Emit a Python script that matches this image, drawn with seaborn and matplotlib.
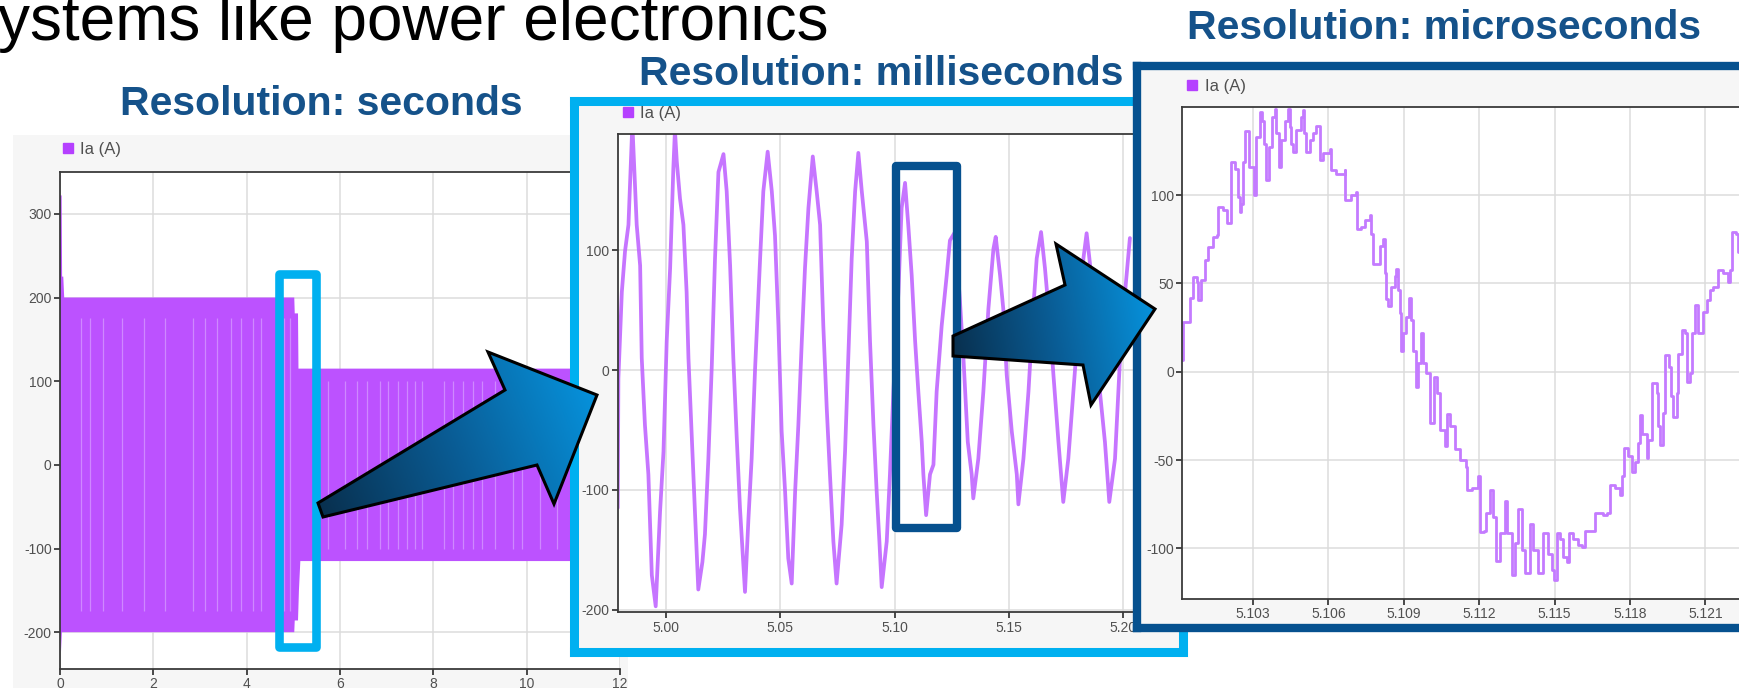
import numpy as np
import pandas as pd
import matplotlib
matplotlib.use('Agg')
import matplotlib.pyplot as plt
import seaborn as sns
from matplotlib.patches import Rectangle, Polygon
from matplotlib.lines import Line2D
from matplotlib.colors import LinearSegmentedColormap

# ---- data ----
series_label = 'Ia (A)'

# panel 1 (seconds): the signal is so dense it reads as a band -> envelope
p1_t_up = [0.0, 0.035, 0.045, 0.07, 0.09, 5.02, 5.03, 5.10, 5.11, 11.6]
p1_v_up = [322, 322, 225, 225, 200, 200, 181, 181, 115, 115]
p1_t_low = [0.0, 0.01, 0.02, 0.04, 5.02, 5.03, 5.10, 5.12, 5.15, 11.6]
p1_v_low = [-200, -200, -225, -200, -200, -186, -186, -150, -115, -115]
p1_stripes_big = [0.44, 0.65, 0.92, 1.33, 1.80, 2.26, 2.86, 3.11, 3.36, 3.66,
                  3.87, 4.13, 4.30, 4.81, 4.93]
p1_stripes_small = [5.75, 6.11, 6.36, 6.57, 6.86, 7.03, 7.25, 7.43, 7.61, 7.75,
                    8.23, 8.43, 8.64, 8.86, 9.04, 9.32, 9.71, 9.89, 10.29, 10.64]
p1_xticks = [0, 2, 4, 6, 8, 10, 12]
p1_yticks = [-200, -100, 0, 100, 200, 300]

# panel 2 (milliseconds)
p2_t = [4.9791, 4.9794, 4.9809, 4.9823, 4.9838, 4.9855, 4.9874, 4.9889, 4.9896, 4.9910,
        4.9925, 4.9940, 4.9957, 4.9976, 4.9991, 5.0005, 5.0020, 5.0034, 5.0041, 5.0049,
        5.0063, 5.0078, 5.0092, 5.0100, 5.0111, 5.0129, 5.0143, 5.0161, 5.0172, 5.0187,
        5.0202, 5.0216, 5.0231, 5.0253, 5.0267, 5.0282, 5.0296, 5.0311, 5.0325, 5.0347,
        5.0362, 5.0376, 5.0391, 5.0413, 5.0427, 5.0446, 5.0464, 5.0478, 5.0493, 5.0507,
        5.0522, 5.0536, 5.0551, 5.0566, 5.0580, 5.0595, 5.0609, 5.0624, 5.0643, 5.0660,
        5.0675, 5.0689, 5.0704, 5.0718, 5.0733, 5.0747, 5.0769, 5.0784, 5.0798, 5.0813,
        5.0828, 5.0842, 5.0857, 5.0879, 5.0893, 5.0908, 5.0922, 5.0934, 5.0944, 5.0966,
        5.0980, 5.0995, 5.1017, 5.1031, 5.1046, 5.1060, 5.1075, 5.1090, 5.1104, 5.1119,
        5.1126, 5.1138, 5.1155, 5.1170, 5.1184, 5.1206, 5.1228, 5.1242, 5.1264, 5.1285,
        5.1301, 5.1320, 5.1337, 5.1344, 5.1366, 5.1388, 5.1410, 5.1432, 5.1442, 5.1461,
        5.1475, 5.1490, 5.1512, 5.1534, 5.1541, 5.1563, 5.1585, 5.1606, 5.1621, 5.1640,
        5.1657, 5.1679, 5.1694, 5.1716, 5.1737, 5.1759, 5.1781, 5.1803, 5.1825, 5.1839,
        5.1854, 5.1876, 5.1897, 5.1919, 5.1938, 5.1963, 5.1985, 5.2007, 5.2028]
p2_v = [-115, -7, 65, 99, 121, 205, 121, 87, 10, -46,
        -87, -171, -197, -118, -68, 24, 85, 168, 200, 174,
        143, 121, 65, 10, -40, -121, -183, -160, -137, -74,
        4, 93, 165, 180, 149, 87, 10, -57, -115, -185,
        -124, -74, 1, 93, 149, 182, 149, 112, 37, -51,
        -101, -157, -178, -101, -46, 24, 85, 135, 178, 149,
        121, 37, -32, -87, -143, -178, -129, -68, 10, 93,
        149, 181, 149, 107, 24, -46, -101, -143, -181, -143,
        -87, -18, 65, 135, 156, 121, 79, 24, -18, -60,
        -87, -121, -87, -79, -18, 37, 79, 108, 115, 60,
        10, -60, -87, -107, -74, -18, 51, 101, 111, 79,
        51, -4, -51, -87, -112, -74, -18, 51, 93, 115,
        85, 37, -4, -60, -110, -74, -18, 37, 93, 114,
        88, 37, -18, -60, -110, -74, 10, 65, 110]
p2_xticks = [5.00, 5.05, 5.10, 5.15, 5.20]
p2_xlabels = ['5.00', '5.05', '5.10', '5.15', '5.20']
p2_yticks = [-200, -100, 0, 100]

# panel 3 (microseconds)
p3_t = [5.10017, 5.10021, 5.10048, 5.10061, 5.10079, 5.10081, 5.10094, 5.10108, 5.10121, 5.10141,
        5.10158, 5.10161, 5.10181, 5.10198, 5.10211, 5.10227, 5.10240, 5.10247, 5.10254, 5.10260,
        5.10270, 5.10283, 5.10304, 5.10313, 5.10327, 5.10336, 5.10344, 5.10353, 5.10363, 5.10376,
        5.10386, 5.10393, 5.10402, 5.10410, 5.10426, 5.10440, 5.10446, 5.10453, 5.10459, 5.10473,
        5.10490, 5.10499, 5.10503, 5.10513, 5.10526, 5.10539, 5.10552, 5.10566, 5.10579, 5.10605,
        5.10612, 5.10632, 5.10665, 5.10668, 5.10692, 5.10712, 5.10716, 5.10732, 5.10745, 5.10765,
        5.10771, 5.10778, 5.10791, 5.10805, 5.10818, 5.10824, 5.10831, 5.10838, 5.10851, 5.10864,
        5.10871, 5.10878, 5.10884, 5.10891, 5.10897, 5.10911, 5.10921, 5.10927, 5.10935, 5.10948,
        5.10957, 5.10970, 5.10977, 5.10988, 5.11004, 5.11020, 5.11033, 5.11043, 5.11063, 5.11073,
        5.11086, 5.11103, 5.11123, 5.11147, 5.11152, 5.11170, 5.11196, 5.11203, 5.11219, 5.11229,
        5.11243, 5.11256, 5.11269, 5.11282, 5.11302, 5.11309, 5.11329, 5.11342, 5.11355, 5.11369,
        5.11382, 5.11402, 5.11415, 5.11435, 5.11455, 5.11475, 5.11488, 5.11499, 5.11508, 5.11521,
        5.11535, 5.11548, 5.11557, 5.11574, 5.11594, 5.11608, 5.11621, 5.11647, 5.11661, 5.11694,
        5.11707, 5.11720, 5.11740, 5.11760, 5.11767, 5.11777, 5.11793, 5.11809, 5.11820, 5.11831,
        5.11840, 5.11849, 5.11866, 5.11873, 5.11886, 5.11889, 5.11906, 5.11913, 5.11919, 5.11933,
        5.11939, 5.11955, 5.11963, 5.11973, 5.11986, 5.11992, 5.12006, 5.12019, 5.12026, 5.12039,
        5.12046, 5.12059, 5.12072, 5.12085, 5.12092, 5.12105, 5.12119, 5.12132, 5.12152, 5.12172,
        5.12192, 5.12198, 5.12208, 5.12221, 5.12231]
p3_v = [6.6, 28.3, 41.5, 53.8, 50.9, 40.6, 51.9, 63.2, 70.8, 76.4,
        77.4, 93.4, 91.5, 84.0, 118.9, 115.0, 99.0, 90.6, 95.0, 119.0,
        136.0, 116.0, 100.0, 133.0, 147.0, 142.0, 129.0, 108.5, 127.0, 144.0,
        149.0, 135.0, 116.0, 131.0, 142.0, 149.0, 138.7, 129.0, 124.5, 137.0,
        144.0, 148.0, 135.0, 124.5, 131.0, 135.0, 139.0, 119.8, 123.6, 126.0,
        114.0, 112.0, 114.0, 97.0, 100.0, 102.0, 81.0, 82.0, 86.0, 89.0,
        78.0, 61.0, 61.0, 71.0, 75.0, 56.0, 41.0, 37.0, 48.0, 54.0,
        58.0, 46.0, 33.0, 12.0, 22.0, 31.0, 42.0, 29.0, 12.0, -8.5,
        4.7, 22.0, 4.7, -1.0, -29.0, -3.0, -12.0, -33.0, -42.0, -24.0,
        -31.0, -44.0, -50.0, -54.0, -67.0, -66.0, -59.0, -90.6, -90.0, -80.0,
        -67.0, -82.0, -107.0, -91.5, -73.0, -91.5, -115.0, -97.0, -78.0, -101.0,
        -114.0, -86.0, -101.0, -114.0, -91.5, -103.0, -112.0, -118.0, -91.5, -95.0,
        -105.0, -107.5, -91.5, -95.0, -98.0, -99.0, -90.0, -90.0, -80.0, -81.0,
        -80.0, -64.0, -66.0, -70.0, -59.0, -43.0, -48.0, -57.0, -51.0, -40.5,
        -24.5, -35.0, -49.0, -38.7, -16.0, -6.6, -12.0, -31.0, -41.5, -23.6,
        9.4, 2.8, -14.0, -25.5, -12.0, 10.0, 23.6, 21.7, -5.7, -1.0,
        21.7, 37.7, 21.7, 21.7, 34.0, 40.6, 46.0, 48.0, 57.5, 55.7,
        51.0, 57.5, 79.0, 78.0, 68.0]
p3_xticks = [5.103, 5.106, 5.109, 5.112, 5.115, 5.118, 5.121]
p3_xlabels = ['5.103', '5.106', '5.109', '5.112', '5.115', '5.118', '5.121']
p3_yticks = [-100, -50, 0, 50, 100]

headline = 'ystems like power electronics'
titles = ['Resolution: seconds', 'Resolution: milliseconds', 'Resolution: microseconds']

# ---- style ----
sns.set_style('white')
plt.rcParams['font.family'] = ['Liberation Sans', 'DejaVu Sans']
plt.rcParams['axes.unicode_minus'] = False

PURPLE = '#bc52ff'
TITLE_BLUE = '#15528a'
CYAN = '#00b0f0'
DARK_BLUE = '#06518f'
W, H = 1739, 688

fig = plt.figure(figsize=(W / 100, H / 100), dpi=100)
fig.patch.set_facecolor('white')


def box(x0, y0, x1, y1):
    # pixel box (top-left origin) -> figure fraction rect
    return [x0 / W, 1 - y1 / H, (x1 - x0) / W, (y1 - y0) / H]


def panel_bg(rect, edge, lw, z):
    bg = fig.add_axes(box(*rect), zorder=z)
    bg.set_facecolor('#f6f6f6')
    bg.set_xticks([])
    bg.set_yticks([])
    for s in bg.spines.values():
        if edge is None:
            s.set_visible(False)
        else:
            s.set_color(edge)
            s.set_linewidth(lw)
    return bg


def style(ax, anchor_x, anchor_y):
    ax.set_facecolor('white')
    ax.grid(True, color='#dcdcdc', lw=1.1)
    ax.set_axisbelow(True)
    for k in ['left', 'bottom', 'top']:
        ax.spines[k].set_color('#3a3a3a')
        ax.spines[k].set_linewidth(1.3)
    ax.spines['right'].set_visible(False)
    ax.tick_params(bottom=True, left=True, direction='out', length=4, width=1.3,
                   color='#3a3a3a', labelsize=10, labelcolor='#505050', pad=2)
    ax.set_xlabel('')
    ax.set_ylabel('')
    h = [Line2D([], [], marker='s', ls='', color='#b540ff', markersize=7.5)]
    ax.legend(h, [series_label], loc='lower left', bbox_to_anchor=(anchor_x, anchor_y),
              frameon=False, fontsize=12, handlelength=0.6, handletextpad=0.45,
              borderpad=0, borderaxespad=0, labelcolor='#505050')


# ---- panel 1 ----
panel_bg((13, 135, 628, 700), None, 0, 1)
ax1 = fig.add_axes(box(60, 172, 620, 669), zorder=2)
band_t = np.concatenate([p1_t_up, p1_t_low[::-1]])
band_v = np.concatenate([p1_v_up, p1_v_low[::-1]])
ax1.fill(band_t, band_v, color=PURPLE, lw=0)
ax1.vlines(p1_stripes_big, -175, 175, color='#cf88ff', lw=0.9)
ax1.vlines(p1_stripes_small, -100, 100, color='#cf88ff', lw=0.9)
ax1.set_xlim(0, 12)
ax1.set_ylim(-244, 350)
ax1.set_xticks(p1_xticks)
ax1.set_yticks(p1_yticks)
style(ax1, 0.005, 1.03)
ax1.add_patch(Rectangle((4.70, -218), 0.78, 446, fill=False, ec=CYAN, lw=6.2,
                        joinstyle='round', clip_on=False, zorder=5))

# ---- panel 2 ----
panel_bg((573.5, 101, 1183, 652), CYAN, 6.5, 3)
ax2 = fig.add_axes(box(617.7, 134.3, 1175, 612.3), zorder=4)
df2 = pd.DataFrame({'t': p2_t, 'ia': p2_v})
sns.lineplot(data=df2, x='t', y='ia', ax=ax2, color='#c066ff', lw=2.7, sort=False,
             alpha=0.9, solid_joinstyle='round')
ax2.set_xlim(4.9791, 5.2225)
ax2.set_ylim(-202, 196.5)
ax2.set_xticks(p2_xticks)
ax2.set_xticklabels(p2_xlabels)
ax2.set_yticks(p2_yticks)
style(ax2, 0.0095, 1.028)
ax2.add_patch(Rectangle((5.1005, -131.9), 0.0267, 301.7, fill=False, ec=DARK_BLUE, lw=6,
                        joinstyle='round', clip_on=False, zorder=5))

# ---- panel 3 ----
panel_bg((1136.5, 66, 1800, 628), DARK_BLUE, 6, 5)
ax3 = fig.add_axes(box(1182.3, 107.3, 1739, 599), zorder=6)
df3 = pd.DataFrame({'t': p3_t, 'ia': p3_v})
sns.lineplot(data=df3, x='t', y='ia', ax=ax3, color='#c47bff', lw=2.0, sort=False,
             drawstyle='steps-post')
ax3.set_xlim(5.10019, 5.12234)
ax3.set_ylim(-128.7, 149.7)
ax3.set_xticks(p3_xticks)
ax3.set_xticklabels(p3_xlabels)
ax3.set_yticks(p3_yticks)
style(ax3, 0.0085, 1.027)

# ---- overlay: arrows ----
ov = fig.add_axes([0, 0, 1, 1], zorder=20)
ov.patch.set_visible(False)
ov.axis('off')
cmap = LinearSegmentedColormap.from_list('arr', ['#08304f', '#0a5d96', '#0692dc'])


def arrow(pts):
    pts = np.array(pts, dtype=float)
    poly = Polygon(pts, closed=True, fc='none', ec='black', lw=2.2, joinstyle='miter', zorder=3)
    ov.add_patch(poly)
    x0, y0 = pts.min(axis=0)
    x1, y1 = pts.max(axis=0)
    gx, gy = np.meshgrid(np.linspace(x0, x1, 200), np.linspace(y0, y1, 200))
    tail = (pts[0] + pts[-1]) / 2
    d = pts[3] - tail
    proj = ((gx - tail[0]) * d[0] + (gy - tail[1]) * d[1]) / (d @ d)
    im = ov.imshow(proj, extent=(x0, x1, y1, y0), origin='upper', cmap=cmap, vmin=0, vmax=1,
                   aspect='auto', interpolation='bilinear', zorder=2)
    im.set_clip_path(poly)


arrow([(318, 503), (505, 390), (488, 352), (597, 395), (554, 504), (537, 465), (323, 517)])
arrow([(953, 336), (1065, 285), (1056, 244), (1155, 309), (1091, 405), (1083, 365), (953, 356)])
ov.set_xlim(0, W)
ov.set_ylim(H, 0)

# ---- texts ----
fig.text(-2 / W, 1 - 40 / H, headline, fontsize=46, color='black', va='baseline', ha='left',
         zorder=30)
for (cx, by), t in zip([(321.6, 115), (881, 85), (1444, 39)], titles):
    fig.text(cx / W, 1 - by / H, t, fontsize=29.5, fontweight='bold', color=TITLE_BLUE,
             ha='center', va='baseline', zorder=30)

fig.savefig('out.png', dpi=100, facecolor='white')
